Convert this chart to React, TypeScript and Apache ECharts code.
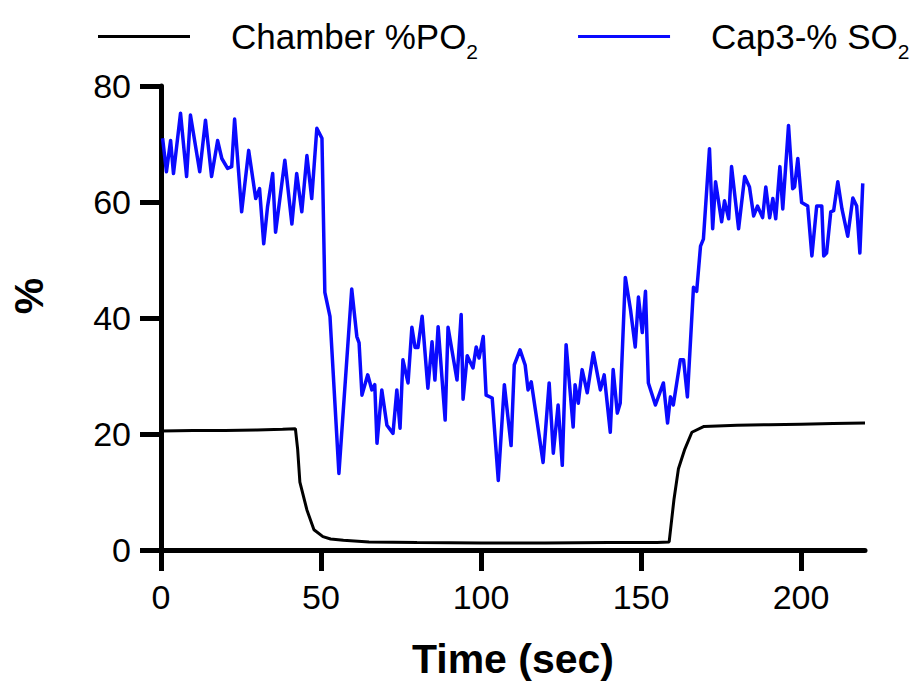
import React, { useEffect, useRef } from "react";
import * as echarts from "echarts";

const seriesNames = ["Chamber %PO2", "Cap3-% SO2"];
const xTicks = [0, 50, 100, 150, 200];

// Chamber %PO2 (black) : [time sec, %]
const chamberPO2: [number, number][] = [
  [0, 20.5], [10, 20.6], [20, 20.6], [30, 20.7], [38, 20.8], [42, 20.9],
  [42.7, 17.4], [43.4, 11.7], [45.6, 6.9], [47.8, 3.5], [50.6, 2.3], [53, 1.9],
  [57, 1.7], [65, 1.4], [80, 1.3], [100, 1.2], [120, 1.2], [140, 1.3],
  [155, 1.3], [158.8, 1.4], [160.3, 8.7], [161.7, 14], [163.7, 17.4],
  [165.9, 20.3], [169.7, 21.3], [180, 21.5], [190, 21.6], [200, 21.7],
  [210, 21.8], [220, 21.9],
];

// Cap3-% SO2 (blue) : [time sec, %]
const cap3SO2: [number, number][] = [
  [0.5, 71], [1.7, 65.2], [3.0, 70.6], [3.9, 64.9], [6.1, 75.3], [8.0, 64.4],
  [9.2, 75.0], [12.1, 65.2], [13.9, 74.1], [15.8, 64.4], [17.7, 70.6], [19.0, 67.5],
  [20.8, 65.8], [22.1, 66.1], [23.0, 74.3], [25.2, 58.3], [27.4, 68.9], [29.6, 60.6],
  [30.8, 62.3], [32.1, 52.8], [33.3, 59.2], [34.9, 64.9], [35.8, 54.8], [38.7, 67.2],
  [40.9, 56.2], [42.4, 64.9], [44.0, 58.3], [45.6, 68.0], [47.1, 60.6], [48.7, 72.7],
  [50.3, 71.0], [51.2, 44.4], [52.8, 40.3], [55.6, 13.2], [59.6, 45.0], [61.2, 36.8],
  [61.9, 35.7], [62.8, 26.7], [64.6, 30.2], [65.9, 27.6], [66.8, 28.5], [67.5, 18.4],
  [69.0, 27.6], [70.6, 21.5], [72.5, 20.1], [73.7, 27.6], [74.7, 21.0], [75.6, 32.8],
  [77.2, 28.8], [78.4, 38.4], [79.4, 34.9], [80.3, 34.9], [81.6, 40.3], [83.4, 27.9],
  [84.7, 35.9], [85.6, 29.3], [86.6, 38.5], [88.8, 22.4], [89.7, 38.4], [92.5, 29.3],
  [93.8, 40.6], [94.4, 26.0], [95.7, 33.5], [97.5, 31.4], [98.5, 35.0], [99.4, 33.1],
  [100.7, 36.8], [101.6, 26.7], [103.5, 26.2], [105.4, 12.0], [107.3, 28.5], [109.4, 18.0],
  [110.4, 31.9], [112.2, 34.5], [113.8, 31.9], [114.7, 27.6], [115.7, 29.0], [117.6, 21.9],
  [119.4, 15.1], [121.3, 28.8], [122.6, 16.7], [124.1, 25.0], [125.4, 14.6], [126.6, 35.4],
  [128.8, 21.2], [129.4, 28.5], [130.4, 25.3], [131.6, 31.1], [133.2, 27.1], [135.1, 34.0],
  [137.3, 27.6], [138.5, 30.2], [140.4, 20.3], [141.3, 31.1], [142.6, 23.6], [143.5, 25.3],
  [145.1, 47.0], [146.7, 41.5], [148.2, 35.0], [149.2, 43.6], [150.4, 37.5], [151.4, 44.6],
  [152.3, 28.8], [154.5, 25.0], [157.0, 28.8], [158.3, 21.9], [159.2, 26.4], [160.1, 25.0],
  [162.3, 32.8], [163.3, 32.8], [164.5, 26.4], [166.4, 45.3], [167.4, 44.6], [168.6, 52.4],
  [169.5, 53.6], [171.4, 69.2], [172.4, 55.4], [173.3, 63.5], [175.2, 56.6], [176.1, 60.2],
  [177.4, 57.1], [178.3, 66.1], [180.5, 55.4], [182.4, 64.4], [183.9, 62.6], [185.2, 57.6],
  [186.4, 59.3], [188.0, 57.3], [189.0, 62.6], [190.2, 57.3], [191.2, 60.6], [192.1, 57.1],
  [193.4, 66.1], [194.3, 58.8], [196.1, 73.2], [197.4, 62.3], [198.0, 62.6], [199.0, 67.5],
  [200.2, 59.9], [202.1, 59.3], [203.4, 50.7], [204.9, 59.3], [206.5, 59.3], [207.1, 50.7],
  [208.0, 51.2], [209.3, 58.3], [210.2, 58.5], [211.5, 63.5], [212.8, 58.8], [214.6, 54.1],
  [216.2, 60.7], [217.4, 59.3], [218.4, 51.2], [219.3, 63.2],
];

const FONT = "'Liberation Sans', Arial, Helvetica, sans-serif";

export default function App() {
  const ref = useRef<HTMLDivElement>(null);
  useEffect(() => {
    if (!ref.current) return;
    const chart = echarts.init(ref.current, undefined, { renderer: "svg" });
    const rich = {
      n: { fontSize: 35, lineHeight: 35, verticalAlign: "top", fontFamily: FONT, color: "#000" },
      s: { fontSize: 21, lineHeight: 21, verticalAlign: "top", padding: [22, 0, 0, 0], fontFamily: FONT, color: "#000" },
    };
    chart.setOption({
      animation: false,
      backgroundColor: "#fff",
      grid: { left: 161, right: 56, top: 86, bottom: 138, containLabel: false },
      legend: {
        left: 93,
        top: 14,
        itemWidth: 92,
        itemHeight: 3,
        itemGap: 100,
        icon: "rect",
        data: seriesNames,
        formatter: (name: string) => `{n|${name.slice(0, -1)}}{s|${name.slice(-1)}}`,
        textStyle: { padding: [0, 0, 0, 36], rich },
      },
      xAxis: {
        type: "value",
        min: 0,
        max: 220,
        interval: 50,
        name: "Time (sec)",
        nameLocation: "middle",
        nameGap: 88,
        nameTextStyle: { fontSize: 41, fontWeight: "bold", fontFamily: FONT, color: "#000" },
        axisLine: { show: true, onZero: false, lineStyle: { color: "#000", width: 5 } },
        axisTick: { show: true, length: 21, lineStyle: { color: "#000", width: 5 }, customValues: xTicks },
        axisLabel: { fontSize: 34, fontFamily: FONT, color: "#000", margin: 30, customValues: xTicks },
        splitLine: { show: false },
      },
      yAxis: {
        type: "value",
        min: 0,
        max: 80,
        interval: 20,
        axisLine: { show: true, onZero: false, lineStyle: { color: "#000", width: 5 } },
        axisTick: { show: true, length: 21, lineStyle: { color: "#000", width: 5 } },
        axisLabel: { fontSize: 34, fontFamily: FONT, color: "#000", margin: 30 },
        splitLine: { show: false },
      },
      graphic: [
        {
          type: "text",
          x: 29,
          y: 296,
          rotation: Math.PI / 2,
          style: {
            text: "%",
            font: `bold 41px ${FONT}`,
            fill: "#000",
            align: "center",
            verticalAlign: "middle",
          },
        },
      ],
      series: [
        {
          name: seriesNames[0],
          type: "line",
          data: chamberPO2,
          color: "#000",
          showSymbol: false,
          symbol: "none",
          lineStyle: { color: "#000", width: 3 },
          z: 3,
        },
        {
          name: seriesNames[1],
          type: "line",
          data: cap3SO2,
          color: "#0a0aff",
          showSymbol: false,
          symbol: "none",
          lineStyle: { color: "#0a0aff", width: 3.5, join: "round" },
          z: 2,
        },
      ],
    });
    return () => chart.dispose();
  }, []);
  return <div ref={ref} style={{ width: 921, height: 688, position: "absolute", left: 0, top: 0 }} />;
}
